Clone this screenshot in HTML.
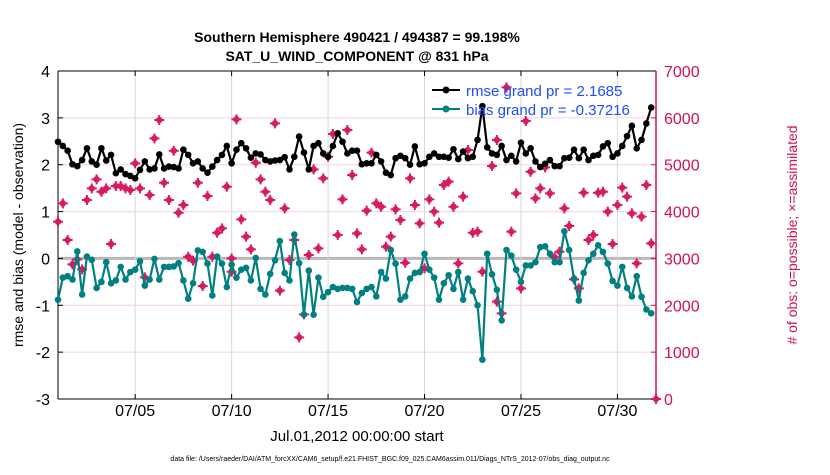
<!DOCTYPE html>
<html><head><meta charset="utf-8"><style>
body{margin:0;background:#fff;}
svg text{font-family:"Liberation Sans",sans-serif;}
</style></head><body>
<svg id="chart" width="830" height="470" viewBox="0 0 830 470" xmlns="http://www.w3.org/2000/svg">
<text x="357" y="42" text-anchor="middle" font-size="14" font-weight="bold">Southern Hemisphere 490421 / 494387 = 99.198%</text>
<text x="357" y="61" text-anchor="middle" font-size="14" font-weight="bold">SAT_U_WIND_COMPONENT @ 831 hPa</text>
<g id="grid"></g>
<g id="axes"></g>
<g id="marks"></g>
<text transform="translate(23,235) rotate(-90)" text-anchor="middle" font-size="14">rmse and bias (model - observation)</text>
<text transform="translate(797,235) rotate(-90)" text-anchor="middle" font-size="14" fill="#d0105a"># of obs: o=possible; ×=assimilated</text>
<text x="357" y="441" text-anchor="middle" font-size="15">Jul.01,2012 00:00:00 start</text>
<text x="390" y="461" text-anchor="middle" font-size="7">data file: /Users/raeder/DAI/ATM_forcXX/CAM6_setup/f.e21.FHIST_BGC.f09_025.CAM6assim.011/Diags_NTrS_2012-07/obs_diag_output.nc</text>
<g id="legend">
<line x1="432" y1="90" x2="460" y2="90" stroke="#000" stroke-width="2"/>
<circle cx="446" cy="90" r="3.5" fill="#000"/>
<text x="466" y="96" font-size="15" fill="#1a4fff">rmse grand pr = 2.1685</text>
<line x1="432" y1="109" x2="460" y2="109" stroke="#008080" stroke-width="2"/>
<circle cx="446" cy="109" r="3.5" fill="#008080"/>
<text x="466" y="115" font-size="15" fill="#1a4fff">bias grand pr = -0.37216</text>
</g>
</svg>
<script>
const rmseValues=[2.49,2.40,2.30,2.01,1.97,2.10,2.35,2.07,2.00,2.35,2.09,2.21,1.82,1.90,1.80,1.76,1.71,1.89,2.07,1.90,1.92,2.22,1.92,1.96,1.95,1.92,2.32,2.21,2.03,2.07,1.92,1.83,1.96,2.10,2.21,2.40,2.03,2.32,2.46,2.35,2.15,2.24,2.22,2.10,2.07,2.09,2.10,2.16,1.90,2.17,2.60,2.26,1.90,2.40,2.46,2.24,2.17,2.40,2.67,2.49,2.24,2.30,2.30,2.01,2.03,
2.03,2.21,2.07,1.83,1.78,2.14,2.19,2.14,2.00,2.39,2.01,2.03,2.17,2.24,2.17,2.17,2.15,2.33,2.12,2.28,2.14,2.17,2.53,3.25,2.37,2.24,2.21,2.40,2.10,2.19,2.07,2.47,2.24,2.35,2.07,1.95,2.02,2.10,1.97,1.97,2.14,2.15,2.32,2.14,2.32,2.10,2.19,2.21,2.39,2.46,2.17,2.24,2.40,2.61,2.83,2.35,2.53,2.88,3.22];
const biasValues=[-0.88,-0.41,-0.38,-0.45,0.15,-0.77,0.04,-0.03,-0.63,-0.50,-0.08,-0.53,-0.47,-0.18,-0.45,-0.29,-0.24,-0.06,-0.58,-0.45,-0.01,-0.45,-0.18,-0.18,-0.17,-0.10,-0.47,-0.86,-0.53,0.17,0.14,-0.11,-0.79,0.04,-0.11,-0.61,-0.13,-0.41,-0.24,-0.20,-0.47,0.01,-0.65,-0.77,-0.33,-0.04,0.37,-0.31,-0.47,0.51,-0.10,-1.20,-0.26,-1.20,-0.41,-0.82,-0.72,-0.61,-0.65,-0.63,-0.63,-0.65,-0.93,-0.74,-0.65,
-0.61,-0.81,-0.29,-0.43,0.18,-0.11,-0.88,-0.81,-0.43,-0.31,-0.29,0.10,-0.24,-0.41,-0.88,-0.53,-0.36,-0.65,-0.29,-0.88,-0.43,-0.70,-1.00,-2.16,0.10,-0.34,-0.67,-1.32,0.18,0.06,-0.24,-0.50,-0.15,-0.15,-0.08,0.24,0.26,0.10,-0.08,-0.08,0.58,0.18,-0.43,-0.90,-0.31,-0.04,0.10,0.28,0.14,-0.11,-0.48,-0.58,-0.18,-0.63,-0.81,-0.38,-0.82,-1.09,-1.17];
const obsIndex=[0,1,2,3,4,5,6,7,8,9,10,11,12,13,14,15,16,17,18,19,20,21,22,23,24,25,26,27,28,29,30,31,32,33,34,35,36,36,37,38,39,40,41,42,43,44,45,46,47,48,49,50,51,52,53,54,55,56,57,58,59,60,61,62,63,64,65,66,67,68,69,70,71,72,73,74,75,76,77,78,79,80,81,82,83,84,85,86,87,88,90,91,91,92,93,94,95,96,97,98,99,100,101,102,103,104,105,106,107,108,109,110,111,112,113,114,115,116,117,118,119,120,121,122,123,124];
const obsCount=[3784,4175,3393,2874,2980,2767,4246,4495,4687,4424,4495,3308,4545,4545,4495,4460,5029,4495,2596,4353,5562,5954,4616,4246,5299,3976,4140,3037,2952,4616,2411,4332,3037,3549,3642,4531,3002,2717,5968,3834,3464,3194,5043,4687,4424,4246,5882,2312,4069,2966,3393,1316,1807,3073,4901,3215,4709,5171,5655,3500,4261,5740,4780,3535,3194,4019,5257,4175,4104,3251,3464,4047,3820,2909,4709,4140,3749,2788,4261,3998,3763,4567,4638,4104,2895,4318,5313,3549,3571,2717,4972,5527,2077,1828,6651,3571,4389,2362,5932,4851,4282,4495,4944,4389,3023,3144,4069,3692,2554,2362,4403,3393,3500,4403,4424,3998,3308,4140,4510,4318,3962,2895,3891,4567,3322,0];
const xTickDays=[4,9,14,19,24,29];
const xTickLabels=["07/05","07/10","07/15","07/20","07/25","07/30"];
const yTicks=[-3,-2,-1,0,1,2,3,4];
const yRTicks=[0,1000,2000,3000,4000,5000,6000,7000];

const NS="http://www.w3.org/2000/svg";
const L=58,R=656,T=71,B=399;
const xDay=d=>L+d*(R-L)/31;
const yL=v=>B-(v+3)*(B-T)/7;
const yR=c=>B-c*(B-T)/7000;
function mk(tag,attrs,parent){const e=document.createElementNS(NS,tag);for(const k in attrs)e.setAttribute(k,attrs[k]);parent.appendChild(e);return e;}
const grid=document.getElementById('grid'),axes=document.getElementById('axes'),marks=document.getElementById('marks');
yTicks.forEach(v=>{
  const g=mk('line',{x1:L,x2:R,y1:yL(v),y2:yL(v),stroke:v===0?'#b8b8b8':'#f2d4de','stroke-width':v===0?3:1},grid);
  
  
  const t=mk('text',{x:L-8,y:yL(v)+6,'text-anchor':'end','font-size':16},axes);
  t.textContent=v;
  
  
  mk('line',{x1:L,x2:L+5,y1:yL(v),y2:yL(v),stroke:'#000'},axes);
});
yRTicks.forEach(c=>{
  const t=mk('text',{x:R+8,y:yR(c)+6,'font-size':16,fill:'#d0105a'},axes);
  t.textContent=c;
  
  
  mk('line',{x1:R-5,x2:R,y1:yR(c),y2:yR(c),stroke:'#d0105a'},axes);
});
xTickDays.forEach((d,i)=>{
  const g=mk('line',{x1:xDay(d),x2:xDay(d),y1:T,y2:B,stroke:'#d8d8d8'},grid);
  
  
  mk('line',{x1:xDay(d),x2:xDay(d),y1:B-5,y2:B,stroke:'#000'},axes);
  mk('line',{x1:xDay(d),x2:xDay(d),y1:T,y2:T+5,stroke:'#000'},axes);
  const t=mk('text',{x:xDay(d),y:B+17,'text-anchor':'middle','font-size':16},axes);
  t.textContent=xTickLabels[i];
  
  
});
mk('line',{x1:L,x2:R,y1:T,y2:T,stroke:'#000'},axes);
mk('line',{x1:L,x2:R,y1:B,y2:B,stroke:'#000'},axes);
mk('line',{x1:L,x2:L,y1:T,y2:B,stroke:'#000'},axes);
mk('line',{x1:R,x2:R,y1:T,y2:B,stroke:'#d0105a','stroke-width':1.5},axes);

obsIndex.forEach((idx,i)=>{
  const cx=xDay(idx*0.25),cy=yR(obsCount[i]);
  const g=mk('g',{},marks);
  
  
  mk('circle',{cx:cx,cy:cy,r:3.2,fill:'#d81b60'},g);
  mk('path',{d:`M${cx-5} ${cy}H${cx+5}M${cx} ${cy-5}V${cy+5}`,stroke:'#d81b60','stroke-width':2},g);
});
function series(vals,color,name){
  const pts=vals.map((v,i)=>[xDay(i*0.25),yL(v)]);
  const p=mk('polyline',{points:pts.map(p=>p.join(',')).join(' '),fill:'none',stroke:color,'stroke-width':2.2,'stroke-linejoin':'round'},marks);
  
  
  pts.forEach(q=>{
    const c=mk('circle',{cx:q[0],cy:q[1],r:3.3,fill:color},marks);
    
    
  });
}
series(biasValues,'#008080','bias');
series(rmseValues,'#000000','rmse');
</script>
</body></html>
